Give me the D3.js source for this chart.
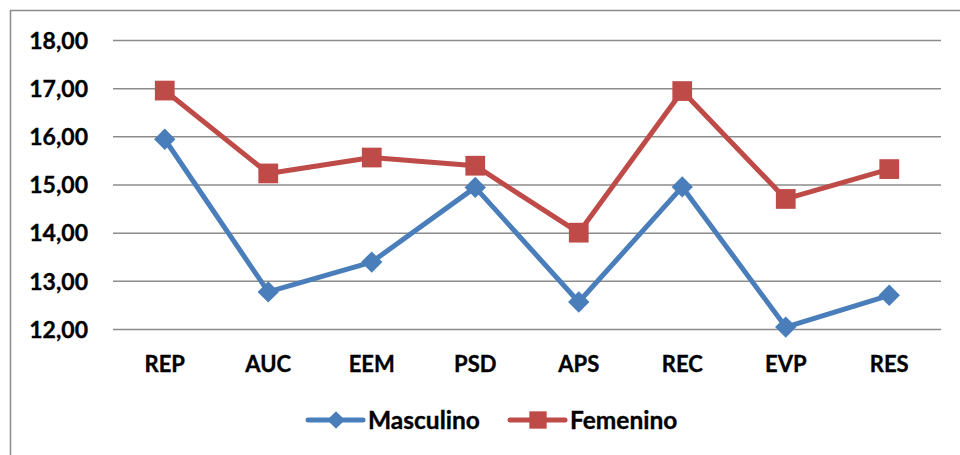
<!DOCTYPE html>
<html>
<head>
<meta charset="utf-8">
<script src="https://cdn.jsdelivr.net/npm/d3@7"></script>
<style>
  html, body { margin: 0; padding: 0; background: #fff; }
  svg { display: block; }
  text { font-family: Lato, "Open Sans", sans-serif; font-weight: 700; fill: #000; stroke: #000; stroke-width: 0.35px; }
</style>
</head>
<body>
<svg id="chart" width="960" height="455"></svg>
<script>
// Scores per dimension, by sex
const categories = ["REP", "AUC", "EEM", "PSD", "APS", "REC", "EVP", "RES"];
const masculino = [15.94, 12.77, 13.39, 14.94, 12.56, 14.95, 12.04, 12.70];
const femenino  = [16.95, 15.23, 15.56, 15.39, 14.00, 16.94, 14.70, 15.32];
const yTicks = [12, 13, 14, 15, 16, 17, 18];
const seriesNames = ["Masculino", "Femenino"];

const fmt = v => v.toFixed(2).replace(".", ",");

const svg = d3.select("#chart");
const W = 960, H = 455;
const plot = { left: 113, right: 941, top: 40, bottom: 329 };

// Chart frame
svg.append("rect")
  .attr("x", 10.5).attr("y", 10.5)
  .attr("width", W + 20).attr("height", H + 20)
  .attr("fill", "#fff").attr("stroke", "#8c8c8c").attr("stroke-width", 1.5);

const x = d3.scaleBand().domain(categories).range([plot.left, plot.right]);
const y = d3.scaleLinear().domain([12, 18]).range([plot.bottom, plot.top]);

// Horizontal gridlines and value labels
const yAxis = d3.axisLeft(y).tickValues(yTicks).tickFormat(fmt)
  .tickSize(-(plot.right - plot.left)).tickPadding(25);
const gy = svg.append("g").attr("transform", `translate(${plot.left},0)`).call(yAxis);
gy.select(".domain").remove();
gy.selectAll(".tick line").attr("stroke", "#8c8c8c").attr("stroke-width", 1.5);
gy.selectAll(".tick text")
  .attr("font-size", 23).attr("font-family", "Lato, sans-serif").attr("font-weight", 700)
  .attr("fill", "#000").attr("dy", "0.36em");

// Category labels
const xAxis = d3.axisBottom(x).tickSize(0).tickPadding(0);
const gx = svg.append("g").attr("transform", `translate(0,${plot.bottom})`).call(xAxis);
gx.select(".domain").remove();
gx.selectAll(".tick text")
  .attr("font-size", 22).attr("font-family", "Lato, sans-serif").attr("font-weight", 700)
  .attr("fill", "#000").attr("dy", null).attr("y", 43);

const colors = { Masculino: "#4a7ebb", Femenino: "#be4b48" };
const seriesData = [
  { name: "Masculino", values: masculino },
  { name: "Femenino", values: femenino }
];

const line = d3.line()
  .x((d, i) => x(categories[i]) + x.bandwidth() / 2)
  .y(d => y(d));

const diamond = d3.symbol().type(d3.symbolDiamond2).size(290);
const square = d3.symbol().type(d3.symbolSquare).size(390);

seriesData.forEach(s => {
  const g = svg.append("g");
  g.append("path")
    .attr("d", line(s.values))
    .attr("fill", "none")
    .attr("stroke", colors[s.name])
    .attr("stroke-width", 5)
    .attr("stroke-linejoin", "round");
  g.selectAll("path.marker")
    .data(s.values)
    .join("path")
    .attr("class", "marker")
    .attr("transform", (d, i) => `translate(${x(categories[i]) + x.bandwidth() / 2},${y(d)})`)
    .attr("d", s.name === "Masculino" ? diamond() : square())
    .attr("fill", colors[s.name]);
});

// Legend
const legend = [
  { name: seriesNames[0], x0: 308 },
  { name: seriesNames[1], x0: 510 }
];
const ly = 420;
legend.forEach(l => {
  const g = svg.append("g");
  g.append("line")
    .attr("x1", l.x0).attr("x2", l.x0 + 55)
    .attr("y1", ly).attr("y2", ly)
    .attr("stroke", colors[l.name]).attr("stroke-width", 5).attr("stroke-linecap", "round");
  g.append("path")
    .attr("transform", `translate(${l.x0 + 28},${ly})`)
    .attr("d", l.name === "Masculino" ? d3.symbol().type(d3.symbolDiamond2).size(200)() : d3.symbol().type(d3.symbolSquare).size(300)())
    .attr("fill", colors[l.name]);
  g.append("text")
    .attr("x", l.x0 + 60).attr("y", ly + 8.5)
    .attr("font-size", 24.5)
    .text(l.name);
});
</script>
</body>
</html>
